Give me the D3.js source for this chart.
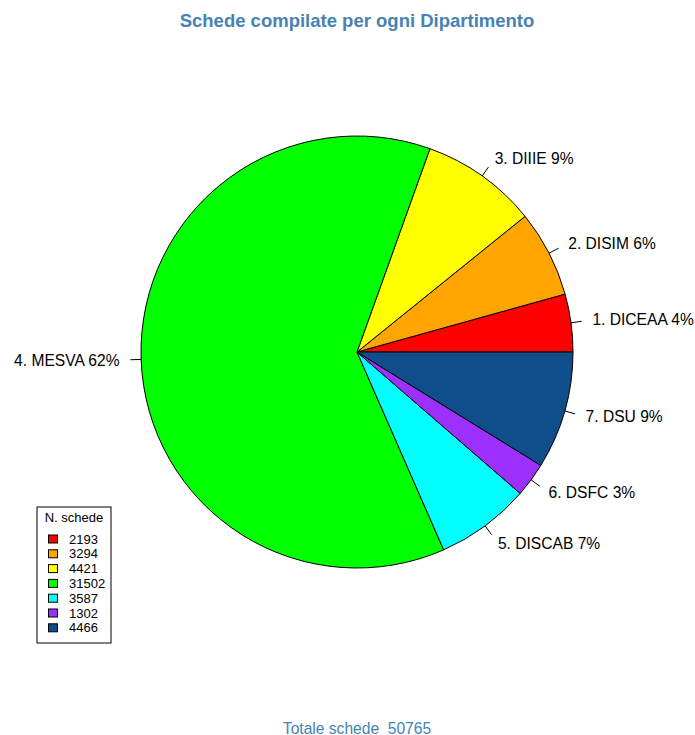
<!DOCTYPE html>
<html>
<head>
<meta charset="utf-8">
<script src="https://cdn.jsdelivr.net/npm/d3@7"></script>
<style>
  body { margin: 0; background: #fff; }
  text { font-family: "Liberation Sans", Arial, sans-serif; white-space: pre; }
</style>
</head>
<body>
<div id="chart"></div>
<script>
var width = 695, height = 735;

// data
var departments = ["DICEAA", "DISIM", "DIIIE", "MESVA", "DISCAB", "DSFC", "DSU"];
var counts = [2193, 3294, 4421, 31502, 3587, 1302, 4466];
var colors = ["#FF0000", "#FFA500", "#FFFF00", "#00FF00", "#00FFFF", "#9B30FF", "#104E8B"];

var total = d3.sum(counts);
var cx = 357, cy = 352, radius = 216;

var svg = d3.select("#chart").append("svg")
    .attr("width", width)
    .attr("height", height);

// R draws counterclockwise from 3 o'clock
var pie = d3.pie()
    .sort(null)
    .startAngle(Math.PI / 2)
    .endAngle(Math.PI / 2 - 2 * Math.PI);

var arc = d3.arc().innerRadius(0).outerRadius(radius);

var arcs = pie(counts);

var g = svg.append("g").attr("transform", "translate(" + cx + "," + cy + ")");

g.selectAll("path.slice")
    .data(arcs)
    .enter().append("path")
    .attr("class", "slice")
    .attr("d", arc)
    .attr("fill", function(d, i) { return colors[i]; })
    .attr("stroke", "#000")
    .attr("stroke-width", 1);

function mid(d) { return (d.startAngle + d.endAngle) / 2; }

// tick lines
g.selectAll("line.tick")
    .data(arcs)
    .enter().append("line")
    .attr("x1", function(d) { return radius * Math.sin(mid(d)); })
    .attr("y1", function(d) { return -radius * Math.cos(mid(d)); })
    .attr("x2", function(d) { return radius * 1.05 * Math.sin(mid(d)); })
    .attr("y2", function(d) { return -radius * 1.05 * Math.cos(mid(d)); })
    .attr("stroke", "#000")
    .attr("stroke-width", 1);

// labels
g.selectAll("text.lab")
    .data(arcs)
    .enter().append("text")
    .attr("x", function(d) { return radius * 1.1 * Math.sin(mid(d)); })
    .attr("y", function(d) { return -radius * 1.1 * Math.cos(mid(d)); })
    .attr("dy", "0.35em")
    .attr("text-anchor", function(d) { return Math.sin(mid(d)) < 0 ? "end" : "start"; })
    .attr("font-size", "15.6px")
    .attr("fill", "#000")
    .text(function(d, i) {
        return (i + 1) + ". " + departments[i] + " " + Math.round(100 * d.value / total) + "%";
    });

// title
svg.append("text")
    .attr("x", cx)
    .attr("y", 27)
    .attr("text-anchor", "middle")
    .attr("font-size", "18.5px")
    .attr("font-weight", "bold")
    .attr("fill", "#4682B4")
    .text("Schede compilate per ogni Dipartimento");

// footer
svg.append("text")
    .attr("x", cx)
    .attr("y", 734)
    .attr("text-anchor", "middle")
    .attr("font-size", "15.6px")
    .attr("fill", "#4682B4")
    .text("Totale schede  " + total);

// legend
var legend = svg.append("g").attr("transform", "translate(37,507)");
legend.append("rect")
    .attr("width", 74)
    .attr("height", 136)
    .attr("fill", "#fff")
    .attr("stroke", "#000");
legend.append("text")
    .attr("x", 37)
    .attr("y", 10)
    .attr("dy", "0.35em")
    .attr("text-anchor", "middle")
    .attr("font-size", "13px")
    .text("N. schede");

var step = 14.8;
var items = legend.selectAll("g.item")
    .data(counts)
    .enter().append("g")
    .attr("transform", function(d, i) { return "translate(0," + (32 + i * step) + ")"; });
items.append("rect")
    .attr("x", 11.5)
    .attr("y", -4)
    .attr("width", 9)
    .attr("height", 8)
    .attr("fill", function(d, i) { return colors[i]; })
    .attr("stroke", "#000");
items.append("text")
    .attr("x", 32)
    .attr("y", 0)
    .attr("dy", "0.35em")
    .attr("font-size", "13px")
    .text(function(d) { return d; });
</script>
</body>
</html>
